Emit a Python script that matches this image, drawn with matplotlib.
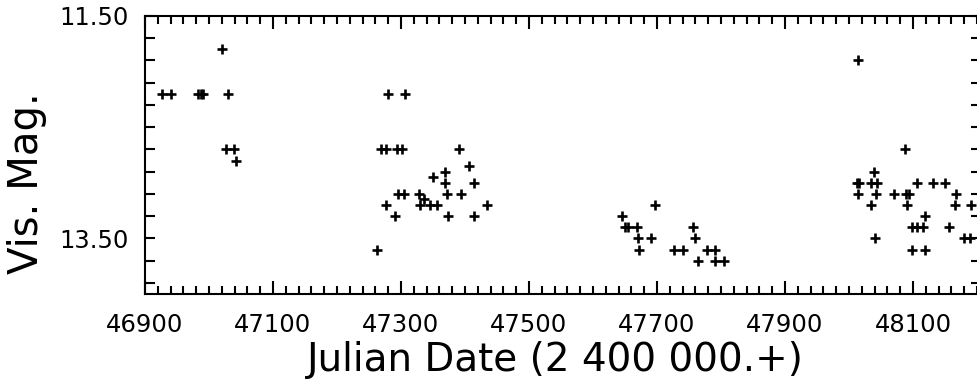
import numpy as np
import matplotlib
matplotlib.use("Agg")
import matplotlib.pyplot as plt
from matplotlib.ticker import MultipleLocator, FixedLocator

# Julian date (2 400 000.+) and visual magnitude
jd = [
    46927, 46941, 46983, 46987, 46991, 47020, 47030, 47027, 47039, 47042,
    47262, 47269, 47277, 47279, 47294, 47301, 47306, 47277, 47290, 47295,
    47304, 47328, 47329, 47336, 47346, 47350, 47357, 47368, 47369, 47372,
    47374, 47391, 47393, 47407, 47414, 47414, 47435,
    47645, 47650, 47654, 47669, 47671, 47672, 47691, 47697, 47726, 47741,
    47757, 47759, 47764, 47778, 47791, 47791, 47804,
    48014, 48012, 48016, 48034, 48039, 48044, 48014, 48042, 48070, 48089,
    48093, 48034, 48040, 48088, 48090, 48099, 48107, 48115, 48099, 48107,
    48119, 48119, 48132, 48150, 48156, 48165, 48167, 48180, 48189, 48190,
]
mag = [
    12.2, 12.2, 12.2, 12.2, 12.2, 11.8, 12.2, 12.7, 12.7, 12.8,
    13.6, 12.7, 12.7, 12.2, 12.7, 12.7, 12.2, 13.2, 13.3, 13.1,
    13.1, 13.1, 13.2, 13.15, 13.2, 12.95, 13.2, 12.9, 13.0, 13.1,
    13.3, 12.7, 13.1, 12.85, 13.0, 13.3, 13.2,
    13.3, 13.4, 13.4, 13.4, 13.5, 13.6, 13.5, 13.2, 13.6, 13.6,
    13.4, 13.5, 13.7, 13.6, 13.6, 13.7, 13.7,
    11.9, 13.0, 13.0, 13.0, 12.9, 13.0, 13.1, 13.1, 13.1, 13.1,
    13.1, 13.2, 13.5, 12.7, 13.2, 13.4, 13.4, 13.4, 13.6, 13.0,
    13.3, 13.6, 13.0, 13.0, 13.4, 13.2, 13.1, 13.5, 13.5, 13.2,
]

xtick_vals = [46900, 47100, 47300, 47500, 47700, 47900, 48100]
ytick_vals = [11.5, 11.7, 11.9, 12.1, 12.3, 12.5, 12.7, 12.9, 13.1, 13.3, 13.5, 13.7, 13.9]
ytick_labels = ["11.50", "", "", "", "", "", "", "", "", "", "13.50", "", ""]

plt.rcParams["font.family"] = ["DejaVu Sans"]

fig = plt.figure(figsize=(9.77, 3.83), dpi=100)
ax = fig.add_axes([145 / 977, 1 - 294 / 383, 832 / 977, 278 / 383])

ax.plot(jd, mag, linestyle="none", marker="+", color="black",
        markersize=7, markeredgewidth=1.9)

ax.set_xlim(46900, 48200)
ax.set_ylim(14.0, 11.5)

# x axis: labelled majors every 200 d, minors every 20 d, ticks on both sides
ax.set_xticks(xtick_vals)
ax.set_xticklabels([str(v) for v in xtick_vals])
ax.xaxis.set_minor_locator(MultipleLocator(20))
ax.tick_params(axis="x", which="major", direction="in", top=True, bottom=True,
               length=9.5, width=1.5, pad=14, labelsize=17.5)
ax.tick_params(axis="x", which="minor", direction="in", top=True, bottom=True,
               length=6, width=1.5)

# y axis: long ticks on the left, short ones on the right
ax.set_yticks(ytick_vals)
ax.set_yticklabels(ytick_labels)
ax.yaxis.set_minor_locator(FixedLocator(ytick_vals))
ax.yaxis.remove_overlapping_locs = False
ax.tick_params(axis="y", which="major", direction="in", left=True, right=False,
               length=7, width=1.5, pad=12, labelsize=17.5)
ax.tick_params(axis="y", which="minor", direction="in", left=False, right=True,
               length=4.3, width=1.5)

for side in ("left", "top", "bottom"):
    ax.spines[side].set_linewidth(1.5)
ax.spines["right"].set_visible(False)

ax.set_xlabel("Julian Date (2 400 000.+)", fontsize=28)
ax.xaxis.set_label_coords(0.493, -0.17)
ax.xaxis.label.set_verticalalignment("top")
ax.set_ylabel("Vis. Mag.", fontsize=29)
ax.yaxis.set_label_coords(-0.118, 0.40)

fig.savefig("out.png", dpi=100)
